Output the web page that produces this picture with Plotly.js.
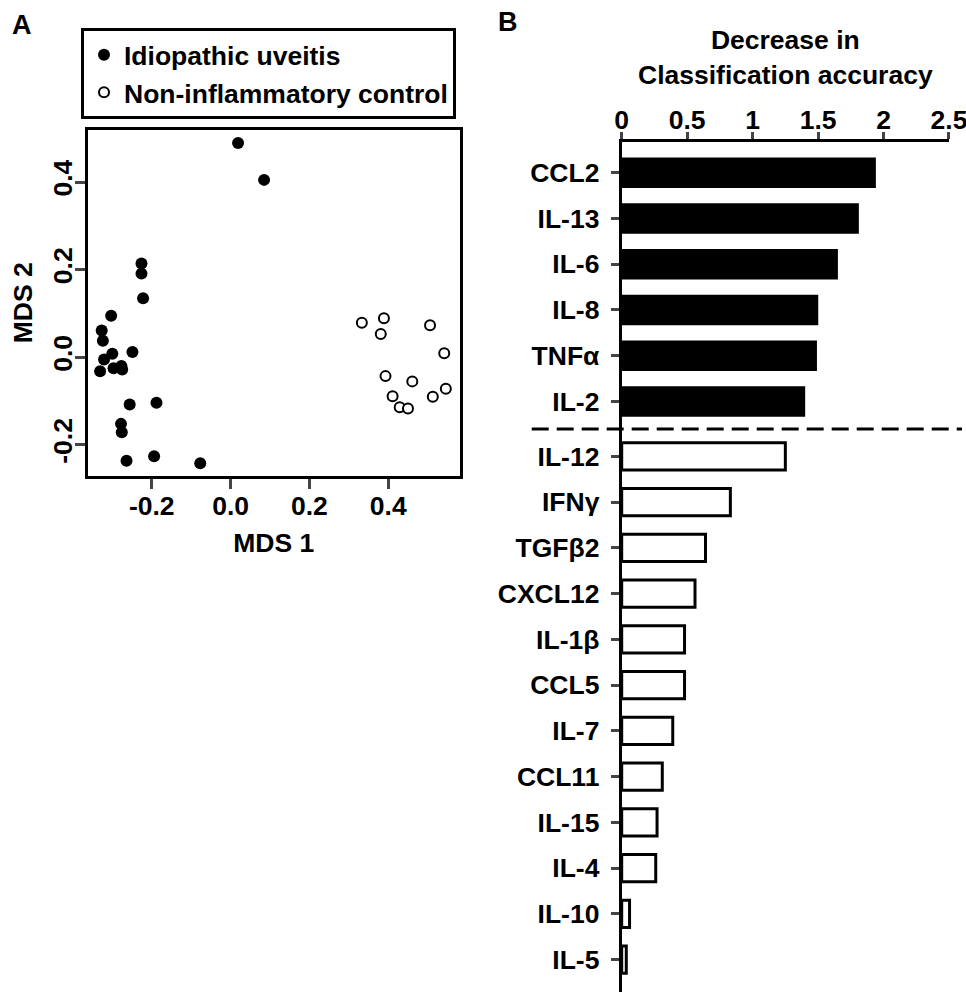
<!DOCTYPE html>
<html><head><meta charset="utf-8">
<script src="https://cdn.plot.ly/plotly-3.0.1.min.js"></script>
<style>body{margin:0;background:#fff}</style>
</head><body>
<div id="chart" style="width:966px;height:992px"></div>
<script>
// Panel A: MDS coordinates
const uveitisX = [0.019, 0.085, -0.226, -0.226, -0.222, -0.303, -0.327, -0.324, -0.300, -0.321, -0.249, -0.331, -0.297, -0.277, -0.275, -0.256, -0.188, -0.278, -0.276, -0.264, -0.194, -0.077];
const uveitisY = [0.489, 0.405, 0.214, 0.191, 0.135, 0.095, 0.061, 0.038, 0.008, -0.005, 0.012, -0.032, -0.025, -0.020, -0.028, -0.108, -0.104, -0.152, -0.171, -0.236, -0.226, -0.242];
const controlX = [0.333, 0.389, 0.381, 0.506, 0.542, 0.393, 0.461, 0.546, 0.513, 0.411, 0.429, 0.450];
const controlY = [0.079, 0.089, 0.053, 0.073, 0.009, -0.043, -0.055, -0.072, -0.090, -0.089, -0.114, -0.117];
const mdsTicks = [-0.2, 0, 0.2, 0.4];
const mdsTickText = ['-0.2', '0.0', '0.2', '0.4'];

// Panel B: variable importance
const cytokines = ['CCL2','IL-13','IL-6','IL-8','TNFα','IL-2','IL-12','IFNγ','TGFβ2','CXCL12','IL-1β','CCL5','IL-7','CCL11','IL-15','IL-4','IL-10','IL-5'];
const accuracyDecrease = [1.93, 1.80, 1.64, 1.49, 1.48, 1.39, 1.25, 0.83, 0.64, 0.56, 0.48, 0.48, 0.39, 0.31, 0.27, 0.26, 0.06, 0.035];
const nTop = 6;
const accTicks = [0, 0.5, 1, 1.5, 2, 2.5];
const accTickText = ['0', '0.5', '1', '1.5', '2', '2.5'];

const FONT = 'Liberation Sans, Arial, sans-serif';
const FS = 26.5;
const GAP = 0.2;
const pos = cytokines.map((c, i) => i + (i >= nTop ? GAP : 0));
const barColors = cytokines.map((c, i) => i < nTop ? '#000' : '#fff');
const sepY = (pos[nTop - 1] + pos[nTop]) / 2;

const traces = [
  {x: uveitisX, y: uveitisY, type: 'scatter', mode: 'markers', name: 'Idiopathic uveitis',
   marker: {color: '#000', size: 12}, xaxis: 'x', yaxis: 'y'},
  {x: controlX, y: controlY, type: 'scatter', mode: 'markers', name: 'Non-inflammatory control',
   marker: {color: '#fff', size: 10, line: {color: '#000', width: 2}}, xaxis: 'x', yaxis: 'y'},
  {x: accuracyDecrease, y: pos, type: 'bar', orientation: 'h', width: 0.6, showlegend: false,
   marker: {color: barColors, line: {color: '#000', width: 3}}, xaxis: 'x2', yaxis: 'y2'}
];

const tf = {family: FONT, size: FS, color: '#000', weight: 'bold'};

const layout = {
  width: 966, height: 992,
  margin: {l: 0, r: 0, t: 0, b: 0},
  paper_bgcolor: '#fff', plot_bgcolor: '#fff',
  font: tf,
  showlegend: true,
  legend: {x: 81/966, y: (992-28)/992, xanchor: 'left', yanchor: 'top',
           bordercolor: '#000', borderwidth: 3, font: tf, bgcolor: '#fff'},
  xaxis: {domain: [87.5/966, 460/966], range: [-0.363, 0.582], anchor: 'y',
          tickvals: mdsTicks, ticktext: mdsTickText, ticks: 'outside', ticklen: 10, tickwidth: 3,
          showline: true, mirror: true, linewidth: 3, linecolor: '#000',
          showgrid: false, zeroline: false, tickfont: tf, ticklabelstandoff: -6,
          title: {text: 'MDS 1', font: tf, standoff: 14}},
  yaxis: {domain: [(992-476)/992, (992-129.5)/992], range: [-0.271, 0.520], anchor: 'x',
          tickvals: mdsTicks, ticktext: mdsTickText, tickangle: -90, ticks: 'outside', ticklen: 10, tickwidth: 3,
          showline: true, mirror: true, linewidth: 3, linecolor: '#000',
          showgrid: false, zeroline: false, tickfont: tf, ticklabelstandoff: -8,
          title: {text: 'MDS 2', font: tf, standoff: 8}},
  xaxis2: {domain: [621.7/966, 949/966], range: [0, 2.5001], anchor: 'y2', side: 'top',
           tickvals: accTicks, ticktext: accTickText, ticks: 'outside', ticklen: 7, tickwidth: 3,
           showline: true, linewidth: 3, linecolor: '#000', ticklabeloverflow: 'allow',
           showgrid: false, zeroline: false, tickfont: tf, ticklabelstandoff: -8,
           title: {text: 'Decrease in<br>Classification accuracy', font: tf, standoff: 14}},
  yaxis2: {domain: [0, (992-142)/992], range: [17.908, -0.671], anchor: 'x2',
           tickvals: pos, ticktext: cytokines, ticks: 'outside', ticklen: 8, tickwidth: 3,
           showline: true, linewidth: 3, linecolor: '#000',
           showgrid: false, zeroline: false, tickfont: tf, ticklabelstandoff: 6},
  shapes: [{type: 'line', xref: 'paper', yref: 'y2', x0: 531.7/966, x1: 962/966, y0: sepY, y1: sepY,
            line: {color: '#000', width: 3, dash: '17px,8px'}}],
  annotations: [
    {text: 'A', xref: 'paper', yref: 'paper', x: 22/966, y: (992-25)/992, showarrow: false,
     xanchor: 'center', yanchor: 'middle', font: {family: FONT, size: 27, color: '#000', weight: 'bold'}},
    {text: 'B', xref: 'paper', yref: 'paper', x: 508/966, y: (992-22)/992, showarrow: false,
     xanchor: 'center', yanchor: 'middle', font: {family: FONT, size: 27, color: '#000', weight: 'bold'}}
  ]
};

Plotly.newPlot('chart', traces, layout, {displayModeBar: false, staticPlot: true});
</script>
</body></html>
